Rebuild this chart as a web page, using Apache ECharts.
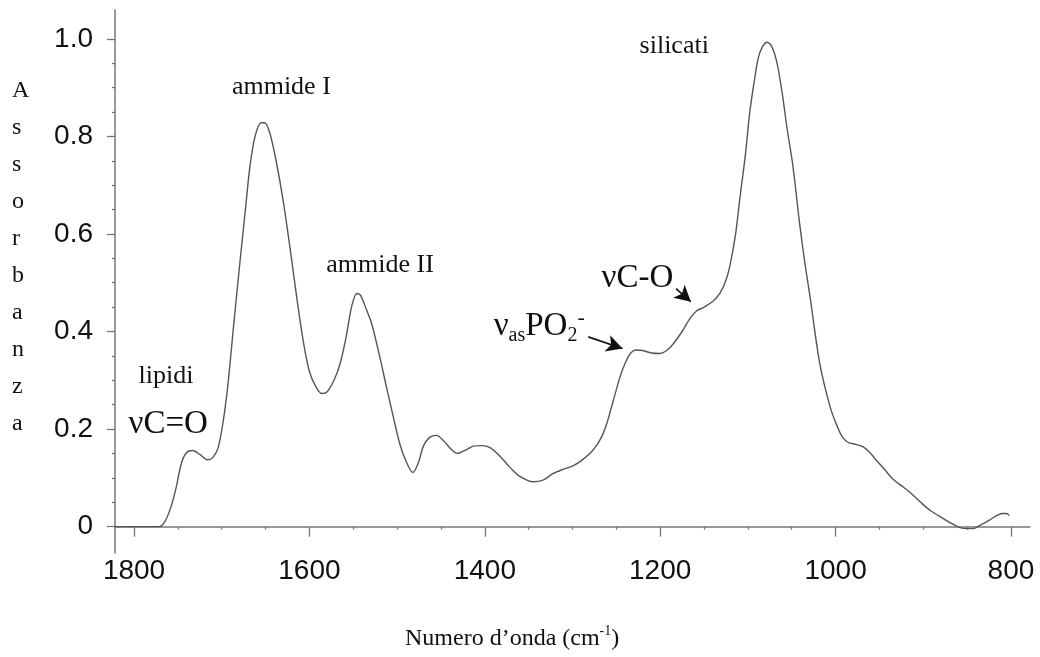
<!DOCTYPE html>
<html>
<head>
<meta charset="utf-8">
<title>Spettro IR</title>
<script src="https://cdn.jsdelivr.net/npm/echarts@6/dist/echarts.min.js"></script>
<style>
  html, body { margin: 0; padding: 0; background: #fff; }
  #chart { width: 1040px; height: 657px; }
</style>
</head>
<body>
<div id="chart"></div>
<script>
// spettro (numero d'onda in cm-1, assorbanza)
const wavenumbers = [1822, 1790, 1772, 1765, 1758, 1752, 1746, 1740, 1733, 1725, 1716, 1710, 1704, 1698, 1693, 1686,
  1679, 1673, 1668, 1662, 1655, 1651, 1645, 1638, 1630, 1622, 1614, 1607, 1600, 1593, 1586, 1580, 1572, 1565, 1558,
  1552, 1546, 1542, 1535, 1529, 1520, 1512, 1505, 1497, 1490, 1482, 1476, 1470, 1463, 1455, 1447, 1438, 1431, 1422,
  1413, 1403, 1394, 1383, 1371, 1360, 1345, 1333, 1322, 1310, 1299, 1288, 1277, 1268, 1261, 1254, 1246, 1240, 1234,
  1228, 1220, 1210, 1200, 1192, 1185, 1175, 1166, 1158, 1151, 1140, 1132, 1125, 1120, 1114, 1109, 1103, 1098, 1093,
  1088, 1083, 1078, 1073, 1067, 1061, 1055, 1049, 1041, 1035, 1029, 1018, 1006, 998, 992, 985, 980, 969, 960, 953,
  944, 935, 925, 915, 903, 892, 882, 873, 865, 858, 850, 843, 838, 832, 824, 816, 810, 805, 802];
const absorbance = [0, 0, 0, 0.01, 0.04, 0.08, 0.13, 0.152, 0.156, 0.148, 0.137, 0.142, 0.162, 0.22, 0.29, 0.42,
  0.546, 0.65, 0.736, 0.80, 0.828, 0.828, 0.806, 0.75, 0.669, 0.57, 0.464, 0.38, 0.318, 0.288, 0.273, 0.276, 0.30, 0.334, 0.39,
  0.45, 0.478, 0.475, 0.445, 0.416, 0.35, 0.285, 0.23, 0.170, 0.135, 0.111, 0.13, 0.165, 0.183, 0.187, 0.176, 0.158, 0.150, 0.157,
  0.165, 0.166, 0.162, 0.145, 0.121, 0.103, 0.092, 0.096, 0.109, 0.118, 0.125, 0.138, 0.156, 0.18, 0.211, 0.255, 0.306, 0.335, 0.355,
  0.362, 0.361, 0.356, 0.355, 0.362, 0.375, 0.40, 0.427, 0.443, 0.449, 0.462, 0.478, 0.505, 0.539, 0.60, 0.675, 0.76, 0.847, 0.91,
  0.962, 0.985, 0.993, 0.985, 0.952, 0.89, 0.812, 0.744, 0.621, 0.54, 0.470, 0.334, 0.244, 0.205, 0.183, 0.172, 0.170, 0.164, 0.15, 0.135,
  0.117, 0.098, 0.084, 0.070, 0.05, 0.033, 0.022, 0.012, 0.004, -0.002, -0.004, -0.004, 0.0, 0.006, 0.014, 0.023, 0.027, 0.027, 0.023];

const xMajorTicks = [1800, 1600, 1400, 1200, 1000, 800];
const xMinorTicks = [1750, 1700, 1650, 1550, 1500, 1450, 1350, 1300, 1250, 1150, 1100, 1050, 950, 900, 850];
const yMajorTicks = [0, 0.2, 0.4, 0.6, 0.8, 1.0];
const yMinorTicks = [0.05, 0.1, 0.15, 0.25, 0.3, 0.35, 0.45, 0.5, 0.55, 0.65, 0.7, 0.75, 0.85, 0.9, 0.95];

const spectrum = wavenumbers.map((w, i) => [w, absorbance[i]]);

const serif = "'Liberation Serif', 'DejaVu Serif', serif";
const sans = "'Liberation Sans', Arial, sans-serif";
const axisColor = '#777';

const chart = echarts.init(document.getElementById('chart'));
const option = {
  animation: false,
  backgroundColor: '#fff',
  title: [
    {
      text: 'Numero d\u2019onda (cm{sup|-1})',
      left: 405,
      top: 624,
      padding: 0,
      textStyle: {
        fontFamily: serif, fontSize: 24, fontWeight: 'normal', color: '#111', lineHeight: 30,
        rich: { sup: { fontFamily: serif, fontSize: 14, color: '#111', verticalAlign: 'top', lineHeight: 14 } }
      }
    },
    {
      text: 'A\ns\ns\no\nr\nb\na\nn\nz\na',
      left: 12,
      top: 72,
      padding: 0,
      textStyle: { fontFamily: serif, fontSize: 24, fontWeight: 'normal', color: '#111', lineHeight: 37 }
    }
  ],
  grid: { left: 115, right: 10, top: 10, bottom: 104, outerBoundsMode: 'none' },
  xAxis: [
    {
      type: 'value',
      inverse: true,
      min: 778.3,
      max: 1821.7,
      splitLine: { show: false },
      axisLine: { show: true, onZero: true, lineStyle: { color: axisColor, width: 1.5 } },
      axisTick: { show: true, customValues: xMajorTicks, length: 10, lineStyle: { color: axisColor, width: 1.3 } },
      axisLabel: {
        customValues: xMajorTicks, margin: 4, fontFamily: sans, fontSize: 28, color: '#111',
        formatter: v => String(v)
      }
    },
    {
      type: 'value',
      inverse: true,
      position: 'bottom',
      min: 778.3,
      max: 1821.7,
      splitLine: { show: false },
      axisLine: { show: false, onZero: true },
      axisTick: { show: true, customValues: xMinorTicks, length: 3, lineStyle: { color: axisColor, width: 1.3 } },
      axisLabel: { show: false }
    }
  ],
  yAxis: [
    {
      type: 'value',
      min: -0.054,
      max: 1.059,
      splitLine: { show: false },
      axisLine: { show: true, lineStyle: { color: axisColor, width: 1.5 } },
      axisTick: { show: true, customValues: yMajorTicks, length: 8, lineStyle: { color: axisColor, width: 1.3 } },
      axisLabel: {
        customValues: yMajorTicks, margin: 22, fontFamily: sans, fontSize: 28, color: '#111',
        formatter: v => (Math.abs(v) < 1e-9 ? '0' : v.toFixed(1))
      }
    },
    {
      type: 'value',
      position: 'left',
      min: -0.054,
      max: 1.059,
      splitLine: { show: false },
      axisLine: { show: false },
      axisTick: { show: true, customValues: yMinorTicks, length: 3, lineStyle: { color: axisColor, width: 1.3 } },
      axisLabel: { show: false }
    }
  ],
  series: [
    {
      type: 'line',
      data: spectrum,
      xAxisIndex: 0,
      yAxisIndex: 0,
      showSymbol: false,
      smooth: 0.3,
      lineStyle: { color: '#555', width: 1.4 },
      markPoint: {
        symbol: 'circle',
        symbolSize: 0,
        itemStyle: { color: 'transparent' },
        label: { show: true, position: 'inside', fontFamily: serif, color: '#111', fontSize: 26 },
        data: [
          { coord: [1632, 0.90], label: { formatter: 'ammide I' } },
          { coord: [1519.5, 0.535], label: { formatter: 'ammide II' } },
          { coord: [1763.5, 0.309], label: { formatter: 'lipidi' } },
          { coord: [1184, 0.984], label: { formatter: 'silicati' } },
          { coord: [1761, 0.209], label: { formatter: '\u03bdC=O', fontSize: 33 } },
          { coord: [1226, 0.508], label: { formatter: '\u03bdC-O', fontSize: 33 } },
          {
            coord: [1338, 0.41],
            label: {
              formatter: '{a|\u03bd}{s|as}{a|PO}{s|2}{p|-}',
              rich: {
                a: { fontFamily: serif, fontSize: 33, color: '#111', lineHeight: 38 },
                s: { fontFamily: serif, fontSize: 20, color: '#111', lineHeight: 10, verticalAlign: 'bottom' },
                p: { fontFamily: serif, fontSize: 22, color: '#111', lineHeight: 10, verticalAlign: 'top' }
              }
            }
          }
        ]
      },
      markLine: {
        silent: true,
        symbol: ['none', 'arrow'],
        symbolSize: [13, 16],
        label: { show: false },
        lineStyle: { color: '#111', width: 1.6, type: 'solid' },
        data: [
          [{ coord: [1282, 0.389] }, { coord: [1243, 0.365] }],
          [{ coord: [1182, 0.488] }, { coord: [1165, 0.461] }]
        ]
      }
    }
  ]
};
chart.setOption(option);
</script>
</body>
</html>
